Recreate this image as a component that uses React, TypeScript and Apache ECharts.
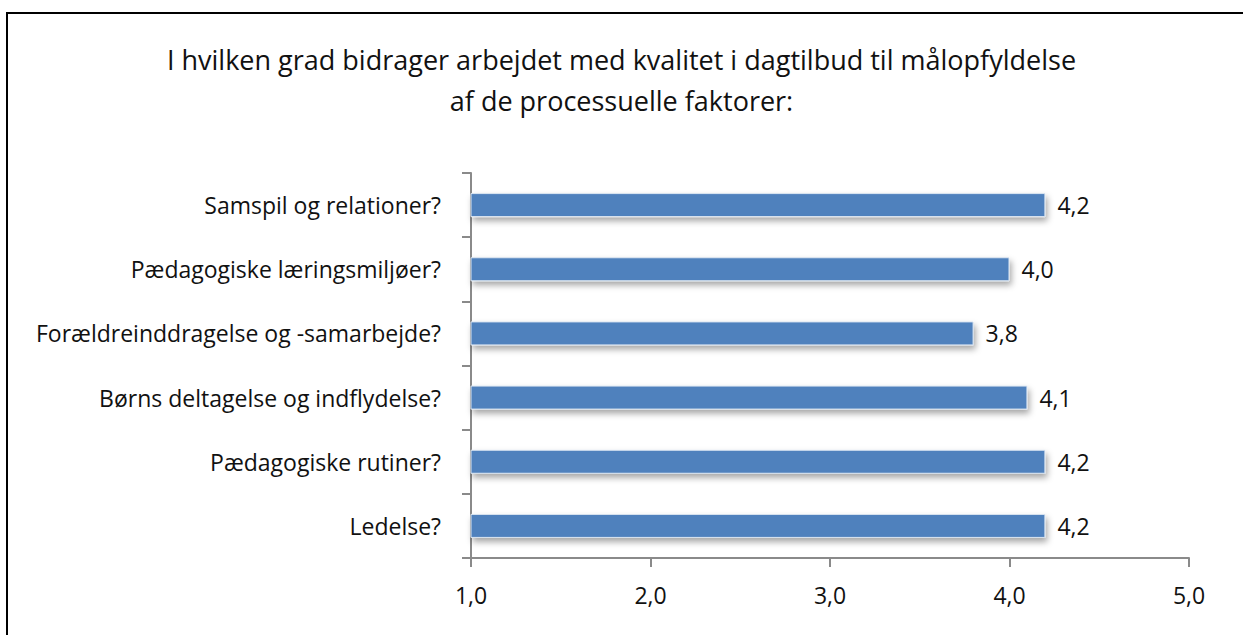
import React, { useEffect, useRef } from "react";
import * as echarts from "echarts";

const categories = [
  "Samspil og relationer?",
  "Pædagogiske læringsmiljøer?",
  "Forældreinddragelse og -samarbejde?",
  "Børns deltagelse og indflydelse?",
  "Pædagogiske rutiner?",
  "Ledelse?",
];
const values = [4.2, 4.0, 3.8, 4.1, 4.2, 4.2];
const titleLines = [
  "I hvilken grad bidrager arbejdet med kvalitet i dagtilbud til målopfyldelse",
  "af de processuelle faktorer:",
];
const xMin = 1;
const xMax = 5;
const xInterval = 1;

const fmt = (v: number) => v.toFixed(1).replace(".", ",");
const FONT = "Open Sans";

export default function App() {
  const ref = useRef<HTMLDivElement>(null);
  useEffect(() => {
    if (!ref.current) return;
    const chart = echarts.init(ref.current, null, { renderer: "svg" });
    chart.setOption({
      animation: false,
      backgroundColor: "#fff",
      title: {
        text: titleLines.join("\n"),
        left: "center",
        top: 34,
        textStyle: {
          fontFamily: FONT,
          fontSize: 27,
          fontWeight: "normal",
          color: "#111",
          lineHeight: 41,
        },
      },
      graphic: [
        {
          type: "rect",
          shape: { x: 7, y: 13, width: 1250, height: 640 },
          style: { fill: "none", stroke: "#000", lineWidth: 2 },
          silent: true,
        },
      ],
      grid: { left: 471, right: 54, top: 173, bottom: 77 },
      xAxis: {
        type: "value",
        min: xMin,
        max: xMax,
        interval: xInterval,
        splitLine: { show: false },
        axisLine: { show: true, lineStyle: { color: "#8a8a8a", width: 2 } },
        axisTick: { show: true, length: 9, lineStyle: { color: "#8a8a8a", width: 2 } },
        axisLabel: {
          margin: 25,
          fontFamily: FONT,
          fontSize: 23,
          color: "#111",
          formatter: (v: number) => fmt(v),
        },
      },
      yAxis: {
        type: "category",
        data: categories,
        inverse: true,
        axisLine: { show: true, lineStyle: { color: "#8a8a8a", width: 2 } },
        axisTick: { show: true, length: 9, lineStyle: { color: "#8a8a8a", width: 2 } },
        axisLabel: {
          margin: 30,
          fontFamily: FONT,
          fontSize: 23,
          color: "#111",
        },
      },
      series: [
        {
          type: "bar",
          data: values,
          barWidth: 24,
          itemStyle: {
            color: "#4F81BD",
            borderColor: "#dce6f2",
            borderWidth: 1,
            shadowColor: "rgba(0,0,0,0.35)",
            shadowBlur: 6,
            shadowOffsetX: 2,
            shadowOffsetY: 4,
          },
          label: {
            show: true,
            position: "right",
            distance: 12,
            fontFamily: FONT,
            fontSize: 23,
            color: "#111",
            formatter: (p: any) => fmt(p.value),
          },
        },
      ],
    });
    return () => chart.dispose();
  }, []);
  return (
    <div
      ref={ref}
      style={{ position: "fixed", left: 0, top: 0, width: 1243, height: 635 }}
    />
  );
}
